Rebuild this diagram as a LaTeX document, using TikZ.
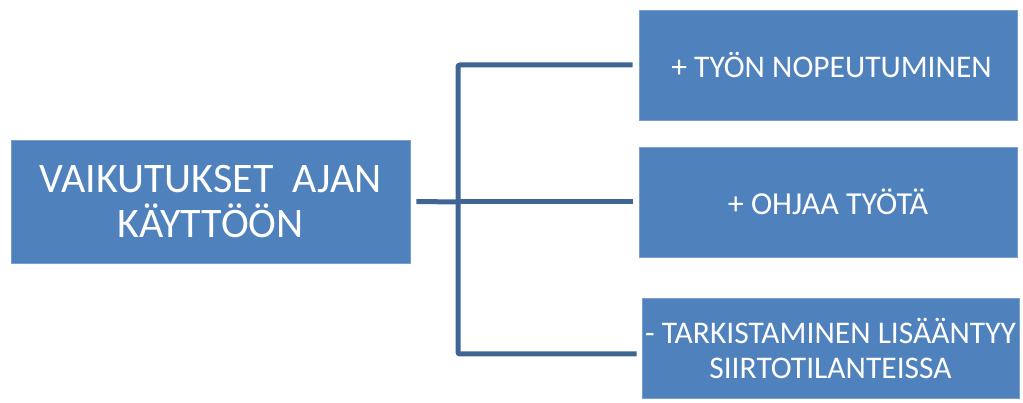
\documentclass[tikz,border=0pt]{standalone}
\usepackage{fontspec}
\setmainfont{Carlito}
\usetikzlibrary{calc,positioning}

\definecolor{boxblue}{HTML}{4F81BD}
\definecolor{boxedge}{HTML}{7A9FCF}
\definecolor{linkblue}{HTML}{3F6595}

\begin{document}
\begin{tikzpicture}[x=1pt,y=-1pt,
	box/.style={draw=boxedge, line width=0.8pt, fill=boxblue, text=white,
		inner sep=0pt, align=center},
	link/.style={draw=linkblue, line width=5pt, rounded corners=2pt}]

% canvas %{{{2

	\useasboundingbox (0,0) rectangle (1023,403);

% boxes %{{{2

	\node[box, minimum width=399pt, minimum height=123pt,
		font=\fontsize{42}{45}\selectfont] (root) at (210.5,201.5)
		{VAIKUTUKSET\ \ AJAN\\K\"AYTT\"O\"ON};

	\node[box, minimum width=378pt, minimum height=110pt,
		font=\fontsize{31.5}{34}\selectfont] (top) at (828,65)
		{\ + TY\"ON NOPEUTUMINEN};

	\node[box, minimum width=378pt, minimum height=110pt,
		font=\fontsize{32}{34}\selectfont] (mid) at (828,202)
		{+ OHJAA TY\"OT\"A};

	\node[box, minimum width=377pt, minimum height=100pt,
		font=\fontsize{31.5}{35}\selectfont] (low) at (830.5,348)
		{- TARKISTAMINEN LIS\"A\"ANTYY\\SIIRTOTILANTEISSA};

% connectors %{{{2

	\coordinate (fork) at (458,202);

	\draw[link] ([xshift=6pt]root.east) -- (fork);
	\draw[link] ([xshift=-6pt]top.west) -| (fork)
		|- ([xshift=-5pt,yshift=-6pt]low.west);
	\draw[link] (fork) -- ([xshift=-6pt]mid.west);

% closing %{{{2

\end{tikzpicture}
\end{document}
